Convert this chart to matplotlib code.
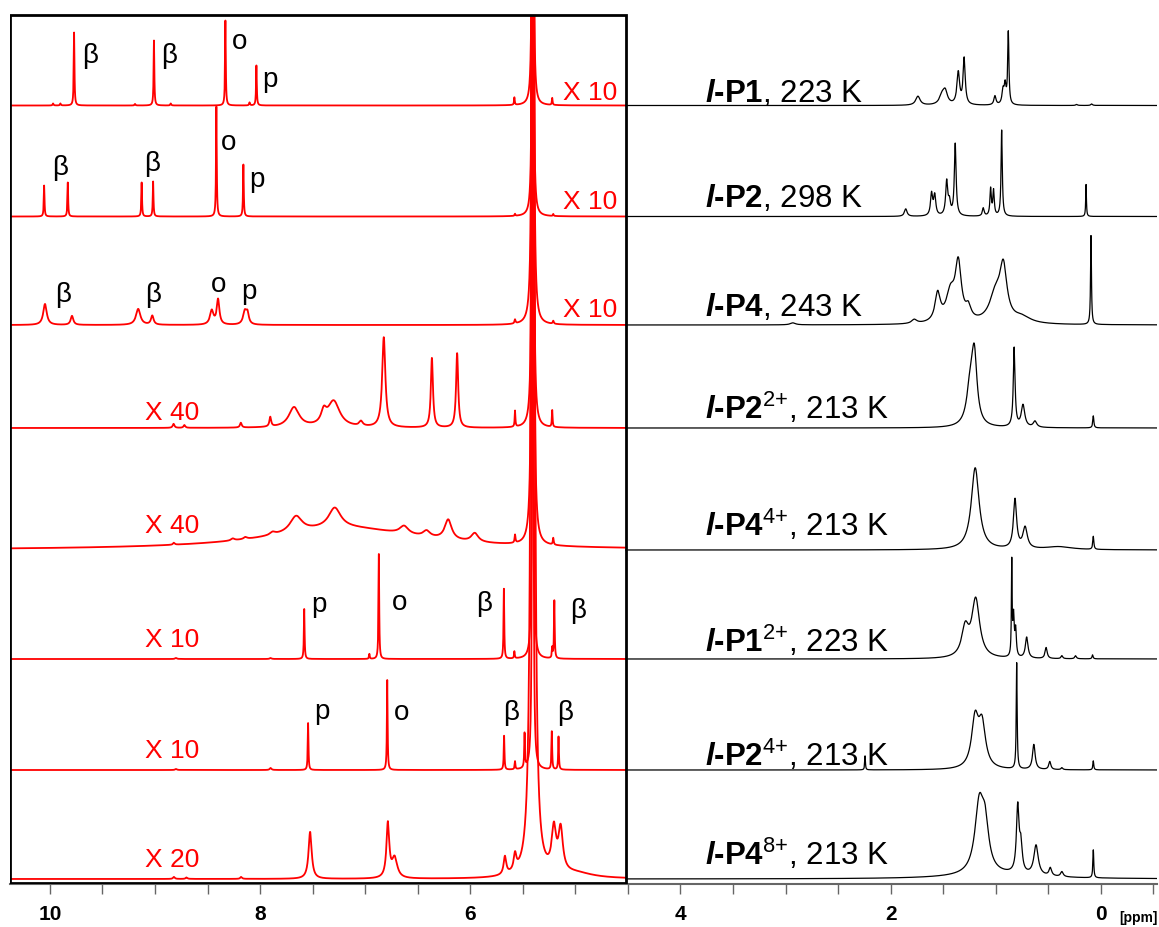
import numpy as np
import matplotlib.pyplot as plt
from matplotlib.patches import Rectangle
from matplotlib.ticker import MultipleLocator, FuncFormatter

plt.rcParams['font.family'] = ['Liberation Sans', 'DejaVu Sans']
plt.rcParams['mathtext.fontset'] = 'custom'
plt.rcParams['mathtext.rm'] = 'Liberation Sans'
plt.rcParams['mathtext.it'] = 'Liberation Sans:italic'
plt.rcParams['mathtext.bf'] = 'Liberation Sans:bold'
plt.rcParams['mathtext.bfit'] = 'Liberation Sans:italic:bold'

# window in ppm, and the low-field part that is shown expanded (in red)
ppm_left, ppm_right = 10.38, -0.535
ppm_cut = 4.52

# one row per spectrum, top to bottom
names = ['P1', 'P2', 'P4', 'P2', 'P4', 'P1', 'P2', 'P4']
charges = ['', '', '', '2+', '4+', '2+', '4+', '8+']
temps = [223, 298, 243, 213, 213, 223, 213, 213]
scales = [10, 10, 10, 40, 40, 10, 10, 20]
offsets = [778.5, 667.5, 559, 456, 334, 225, 114, 5]

# aromatic region peaks (ppm, intensity, half width), intensity before scaling
red_peaks = [
    [(9.97, .2, .005), (9.90, .2, .005), (9.77, 7.3, .004), (9.19, .15, .005),
     (9.01, 6.5, .004), (8.85, .2, .005), (8.33, 8.5, .004), (8.10, .3, .005),
     (8.035, 4.0, .004), (5.58, .75, .004), (5.405, 250, .003), (5.22, .7, .004)],
    [(10.055, 3.1, .004), (9.83, 3.4, .004), (9.127, 3.4, .004), (9.018, 3.5, .004),
     (8.416, 11.0, .004), (8.159, 5.2, .004), (5.574, .2, .004), (5.405, 250, .003),
     (5.21, .2, .004)],
    [(10.047, 2.1, .02), (9.79, .9, .015), (9.16, 1.6, .025), (9.026, .9, .015),
     (8.46, 1.4, .02), (8.40, 2.5, .015), (8.145, 1.3, .02), (8.12, 1.0, .015),
     (5.574, .4, .006), (5.405, 250, .0045), (5.21, .3, .006)],
    [(8.823, .1, .01), (8.72, .07, .01), (8.183, .12, .01), (7.903, .24, .01),
     (7.677, .5, .06), (7.394, .3, .03), (7.30, .65, .07), (7.04, .12, .02),
     (6.823, 2.25, .018), (6.365, 1.74, .012), (6.125, 1.86, .012), (5.574, .4, .004),
     (5.405, 62.5, .004), (5.22, .42, .004)],
    [(7.2, .55, .9), (7.658, .4, .07), (7.29, .5, .07), (6.63, .2, .05),
     (6.416, .15, .04), (6.21, .5, .04), (5.957, .22, .04), (8.82, .05, .01),
     (8.26, .05, .02), (8.14, .05, .02), (7.88, .07, .03), (5.574, .2, .005),
     (5.405, 62.5, .005), (5.21, .17, .005)],
    [(7.58, 5.0, .004), (6.96, .5, .004), (6.87, 10.5, .004), (5.68, 7.0, .004),
     (5.58, .7, .004), (5.405, 250, .003), (5.22, 1.0, .004), (5.20, 5.8, .004),
     (8.8, .1, .01), (7.9, .1, .01)],
    [(7.543, 4.7, .004), (6.79, 9.0, .004), (7.9, .2, .01), (8.8, .1, .01),
     (5.678, 3.4, .004), (5.574, .8, .004), (5.483, 3.4, .004), (5.405, 250, .003),
     (5.224, 3.8, .004), (5.16, 3.3, .004)],
    [(8.82, .1, .01), (8.7, .075, .01), (8.18, .1, .01), (7.524, 2.35, .018),
     (6.784, 2.7, .016), (6.72, 1.0, .03), (5.67, .9, .015), (5.574, .8, .015),
     (5.405, 125, .011), (5.204, 2.1, .025), (5.14, 2.1, .025), (5.0, .25, .2)],
]

# aliphatic region peaks (ppm, intensity, half width)
black_peaks = [
    [(1.74, 9, .025), (1.51, 9, .03), (1.48, 12, .025), (1.356, 32, .015),
     (1.30, 46, .012), (1.007, 9, .012), (0.93, 14, .012), (0.91, 18, .01),
     (0.88, 72, .007), (0.23, 1, .01), (0.087, 1.5, .01)],
    [(1.856, 7.5, .015), (1.61, 22, .012), (1.58, 20, .012), (1.466, 34, .012),
     (1.44, 12, .012), (1.385, 72, .01), (1.118, 8, .01), (1.048, 27, .008),
     (1.02, 25, .008), (0.943, 86, .007), (0.14, 32, .004)],
    [(2.93, 2, .03), (1.775, 4, .03), (1.552, 28, .03), (1.43, 28, .05),
     (1.356, 56, .035), (1.26, 12, .03), (1.00, 28, .07), (0.927, 50, .04),
     (0.75, 6, .1), (0.093, 89, .005)],
    [(1.241, 38, .04), (1.203, 64, .03), (0.824, 79, .01), (0.74, 22, .02),
     (0.626, 6, .02), (0.071, 12, .006)],
    [(1.195, 82, .045), (0.816, 49, .018), (0.72, 21, .025), (0.4, 3, .15),
     (0.071, 13, .006)],
    [(1.29, 28, .04), (1.19, 58, .045), (0.847, 92, .004), (0.83, 40, .008),
     (0.81, 26, .008), (0.705, 21, .015), (0.52, 11, .012), (0.37, 3, .01),
     (0.24, 3, .01), (0.078, 4, .006)],
    [(1.196, 48, .04), (1.13, 42, .04), (0.80, 106, .005), (0.637, 25, .015),
     (0.485, 8, .012), (0.37, 2, .01), (0.071, 9, .005), (2.243, 14, .004)],
    [(1.156, 68, .05), (1.10, 40, .04), (0.79, 66, .015), (0.76, 26, .015),
     (0.616, 30, .025), (0.48, 8, .015), (0.37, 5, .015), (0.071, 28, .005),
     (1.0, 4, .5)],
]

# signal assignments drawn over the expanded traces (ppm, height, letter)
assign_rows = [0, 1, 2, 5, 6]
assign_ppm = [
    [9.621, 8.866, 8.20, 7.905],
    [9.903, 9.023, 8.30, 8.033],
    [9.874, 9.018, 8.40, 8.105],
    [7.439, 6.677, 5.864, 4.974],
    [7.415, 6.658, 5.612, 5.098],
]
assign_y = [
    [828, 828, 842, 804],
    [716, 720, 741, 704],
    [589, 589, 599, 592],
    [279, 281, 280, 273],
    [172, 171, 171, 171],
]
assign_txt = [
    ['β', 'β', 'o', 'p'],
    ['β', 'β', 'o', 'p'],
    ['β', 'β', 'o', 'p'],
    ['p', 'o', 'β', 'β'],
    ['p', 'o', 'β', 'β'],
]

# where the scale factors and sample names are written
scale_ppm = [4.86, 4.86, 4.86, 8.837, 8.837, 8.837, 8.837, 8.837]
scale_y = [784, 675, 567, 464, 351, 237, 126, 17]
name_ppm = 3.766
name_y = [782, 677, 568, 465, 348, 232, 118, 19]


def lorentz(x, peaks):
    y = np.zeros_like(x)
    for c, h, w in peaks:
        y += h * w ** 2 / ((x - c) ** 2 + w ** 2)
    return y


fig = plt.figure(figsize=(11.59, 9.27), dpi=100)
ax = fig.add_axes([10 / 1159, 43 / 927, 1147 / 1159, 884 / 927])
ax.set_xlim(ppm_left, ppm_right)
ax.set_ylim(0, 884)

box = Rectangle((ppm_left, 1), ppm_cut - ppm_left, 868, fill=False,
                edgecolor='black', linewidth=2, zorder=5)
ax.add_patch(box)

x_red = np.linspace(ppm_cut, ppm_left, 14000)
x_blk = np.linspace(ppm_right, ppm_cut, 12000)

for i in range(len(names)):
    base = offsets[i]
    y_red = base + scales[i] * lorentz(x_red, red_peaks[i])
    y_blk = base + lorentz(x_blk, black_peaks[i])
    ln, = ax.plot(x_red, y_red, color='#ff0000', linewidth=1.3, zorder=3)
    ln.set_clip_path(box)
    ax.plot(x_blk, y_blk, color='black', linewidth=0.9, zorder=3)

    ax.text(scale_ppm[i], scale_y[i], f'X {scales[i]}', color='#ff0000',
            fontsize=19, ha='center', va='baseline', zorder=6)

    sup = r'^{\text{' + charges[i] + '}}' if charges[i] else ''
    label = r'$\mathbfit{l}\mathbf{‐' + names[i] + '}' + sup + f'$, {temps[i]} K'
    ax.text(name_ppm, name_y[i], label, fontsize=22.5, ha='left', va='baseline',
            zorder=6)

for r, row in enumerate(assign_rows):
    for p, y, t in zip(assign_ppm[r], assign_y[r], assign_txt[r]):
        ax.text(p, y, t, fontsize=20, ha='center', va='center', zorder=6)

for side in ['top', 'left', 'right']:
    ax.spines[side].set_visible(False)
ax.spines['bottom'].set_color('#666666')
ax.spines['bottom'].set_linewidth(1.5)
ax.set_yticks([])
ax.xaxis.set_major_locator(MultipleLocator(2))
ax.xaxis.set_minor_locator(MultipleLocator(0.5))
ax.xaxis.set_major_formatter(FuncFormatter(lambda v, pos: f'{v:.0f}'))
ax.tick_params(axis='x', which='both', direction='out', length=7, width=1,
               color='#666666', pad=8)
for lab in ax.get_xticklabels():
    lab.set_fontfamily(['Liberation Sans Narrow', 'Liberation Sans'])
    lab.set_fontweight('bold')
    lab.set_fontsize(15)

fig.text(1138 / 1159, 1 - 918 / 927, '[ppm]', fontsize=10, fontweight='bold',
         family=['Liberation Sans Narrow', 'Liberation Sans'], ha='center',
         va='center')

fig.savefig('out.png', dpi=100)
